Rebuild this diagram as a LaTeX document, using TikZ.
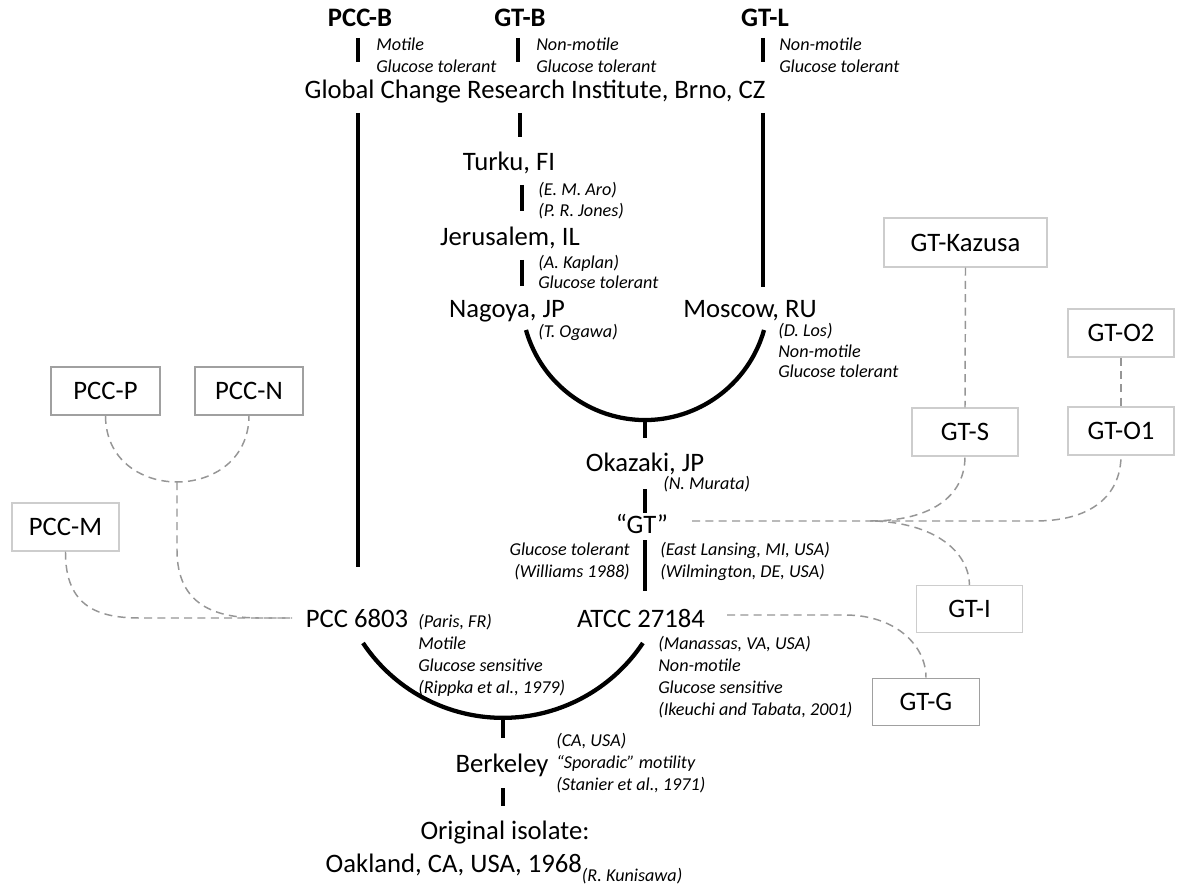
\documentclass[tikz,border=0pt]{standalone}
\usepackage{fontspec}
\setmainfont{Carlito}
\begin{document}
\begin{tikzpicture}[x=0.75pt,y=-0.75pt,
  lbl/.style={font=\fontsize{20}{24}\selectfont, inner sep=0pt, anchor=base},
  blbl/.style={font=\fontsize{20}{24}\selectfont\bfseries, inner sep=0pt, anchor=base},
  ann/.style={font=\fontsize{13.6}{15}\selectfont\itshape, inner sep=0pt, anchor=base west},
  annr/.style={font=\fontsize{13.6}{15}\selectfont\itshape, inner sep=0pt, anchor=base east},
  tk/.style={line width=3.2pt, black},
  dl/.style={line width=1.1pt, draw={rgb,255:red,150;green,150;blue,150}, dash pattern=on 6pt off 4pt},
  lbox/.style 2 args={draw={rgb,255:red,205;green,205;blue,205}, line width=0.8pt, font=\fontsize{20}{24}\selectfont, minimum width=#1*0.75pt, minimum height=#2*0.75pt, inner sep=0pt},
  dbox/.style 2 args={draw={rgb,255:red,160;green,160;blue,160}, line width=1.4pt, font=\fontsize{20}{24}\selectfont, minimum width=#1*0.75pt, minimum height=#2*0.75pt, inner sep=0pt}
]
\useasboundingbox[fill=white] (0,0) rectangle (1179,884);

% top strains
\node[blbl] (pccb) at (360,27) {PCC-B};
\node[blbl] (gtb) at (520,27) {GT-B};
\node[blbl] (gtl) at (765,27) {GT-L};
\node[ann] (a1) at (376,51) {Motile};
\node[ann] (a2) at (376,73) {Glucose tolerant};
\node[ann] (a3) at (536,51) {Non-motile};
\node[ann] (a4) at (536,73) {Glucose tolerant};
\node[ann] (a5) at (779,51) {Non-motile};
\node[ann] (a6) at (779,73) {Glucose tolerant};
\coordinate (t1a) at (358,38); \coordinate (t1b) at (358,62);
\coordinate (t2a) at (518,38); \coordinate (t2b) at (518,62);
\coordinate (t3a) at (763,38); \coordinate (t3b) at (763,62);
\draw[tk] (t1a) -- (t1b);
\draw[tk] (t2a) -- (t2b);
\draw[tk] (t3a) -- (t3b);

\node[lbl] (brno) at (535,99) {Global Change Research Institute, Brno, CZ};

% long lines
\coordinate (pl1) at (358,113); \coordinate (pl2) at (358,567);
\draw[tk] (pl1) -- (pl2);
\coordinate (gb1) at (520,113); \coordinate (gb2) at (520,137);
\draw[tk] (gb1) -- (gb2);
\coordinate (gl1) at (763,113); \coordinate (gl2) at (763,287);
\draw[tk] (gl1) -- (gl2);

\node[lbl] (turku) at (509,171) {Turku, FI};
\coordinate (tu1) at (522,185); \coordinate (tu2) at (522,211);
\draw[tk] (tu1) -- (tu2);
\node[ann] (aro) at (538,196) {(E. M. Aro)};
\node[ann] (jones) at (538,217) {(P. R. Jones)};
\node[lbl] (jeru) at (510,246) {Jerusalem, IL};
\coordinate (je1) at (522,260); \coordinate (je2) at (522,286);
\draw[tk] (je1) -- (je2);
\node[ann] (kaplan) at (538,269) {(A. Kaplan)};
\node[ann] (jgt) at (538,289) {Glucose tolerant};
\node[lbl] (nagoya) at (507,318) {Nagoya, JP};
\node[lbl] (moscow) at (750,318) {Moscow, RU};
\node[ann] (ogawa) at (538,338) {(T. Ogawa)};
\node[ann] (los) at (778,337) {(D. Los)};
\node[ann] (mnm) at (778,358) {Non-motile};
\node[ann] (mgt) at (778,378) {Glucose tolerant};

% upper arc
\coordinate (ua) at (526,330);
\coordinate (ub) at (645,420);
\coordinate (uc) at (645,438);
\draw[tk] (ua) arc[start angle=164.2, end angle=15.8, radius=123.7];
\draw[tk] (ub) -- (uc);

\node[lbl] (okazaki) at (645,471) {Okazaki, JP};
\node[ann] (murata) at (663,489) {(N. Murata)};
\coordinate (ok1) at (645,489); \coordinate (ok2) at (645,513);
\draw[tk] (ok1) -- (ok2);
\node[lbl] (gt) at (642,533) {“GT”};
\node[annr] (wgt) at (630,555) {Glucose tolerant};
\node[annr] (will) at (630,577) {(Williams 1988)};
\node[ann] (lans) at (660,555) {(East Lansing, MI, USA)};
\node[ann] (wilm) at (660,577) {(Wilmington, DE, USA)};
\coordinate (gt1) at (645,540); \coordinate (gt2) at (645,591);
\draw[tk] (gt1) -- (gt2);

\node[lbl] (atcc) at (641,627) {ATCC 27184};
\node[lbl] (pcc) at (357,627) {PCC 6803};
\node[ann] (paris) at (418,627) {(Paris, FR)};
\node[ann] (pmot) at (418,649) {Motile};
\node[ann] (pgs) at (418,671) {Glucose sensitive};
\node[ann] (ripp) at (418,693) {(Rippka et al., 1979)};
\node[ann] (mana) at (658,649) {(Manassas, VA, USA)};
\node[ann] (anm) at (658,671) {Non-motile};
\node[ann] (ags) at (658,693) {Glucose sensitive};
\node[ann] (ikeu) at (658,715) {(Ikeuchi and Tabata, 2001)};

% lower arc
\coordinate (la) at (363,643);
\coordinate (lb) at (503,718);
\coordinate (lc) at (503,738);
\draw[tk] (la) arc[start angle=146.3, end angle=33.7, radius=168.2];
\draw[tk] (lb) -- (lc);

\node[lbl] (berk) at (502,772) {Berkeley};
\node[ann] (ca) at (556,746) {(CA, USA)};
\node[ann] (spor) at (556,768) {“Sporadic” motility};
\node[ann] (stan) at (556,790) {(Stanier et al., 1971)};
\coordinate (be1) at (503,788); \coordinate (be2) at (503,806);
\draw[tk] (be1) -- (be2);
\node[lbl] (orig) at (505,839) {Original isolate:};
\node[lbl] (oak) at (504,872) {Oakland, CA, USA, 1968\raisebox{-0.35em}{\fontsize{13.6}{15}\selectfont\itshape(R. Kunisawa)}};

% left boxes
\node[dbox={109}{48}] (pccp) at (105.5,391) {PCC-P};
\node[dbox={108}{48}] (pccn) at (249,391) {PCC-N};
\node[lbox={107}{48}] (pccm) at (65.5,527) {PCC-M};
\coordinate (pj) at (177,482);
\coordinate (pend) at (292,618);
\draw[dl] (pccp.south) .. controls (106,504) and (248,504) .. (pccn.south);
\draw[dl] (pj) -- (177,550) .. controls (177,605) and (215,618) .. (260,618) -- (pend);
\draw[dl] (pccm.south) .. controls (65,608) and (100,618) .. (140,618) -- (pend);

% right boxes
\node[lbox={163}{49}] (kaz) at (965.5,242.5) {GT-Kazusa};
\node[lbox={106}{48}] (gto2) at (1121,333) {GT-O2};
\node[lbox={106}{48}] (gts) at (965,432) {GT-S};
\node[lbox={106}{48}] (gto1) at (1121,431) {GT-O1};
\node[lbox={106}{47}] (gti) at (969.5,609) {GT-I};
\node[dbox={107}{47}] (gtg) at (926,702) {GT-G};
\draw[dl] (kaz.south) -- (gts.north);
\draw[dl] (gto2.south) -- (gto1.north);
\coordinate (gtd) at (692,521);
\draw[dl] (gtd) -- (1035,521) .. controls (1098,521) and (1121,490) .. (gto1.south);
\draw[dl] (870,521) .. controls (930,521) and (965,497) .. (gts.south);
\draw[dl] (875,521) .. controls (940,524) and (969,555) .. (gti.north);
\coordinate (atd) at (727,615);
\draw[dl] (atd) -- (845,615) .. controls (895,615) and (926,645) .. (gtg.north);
\end{tikzpicture}
\end{document}
